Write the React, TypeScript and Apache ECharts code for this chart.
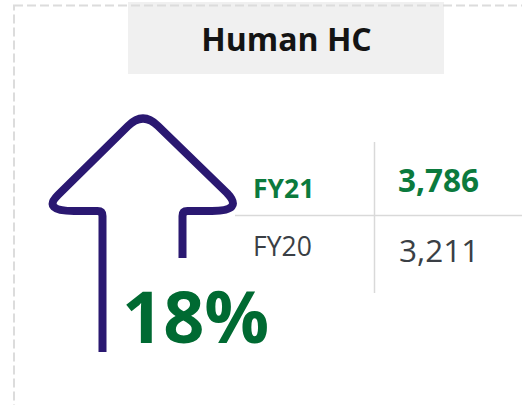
import React, { useEffect, useRef } from "react";
import * as echarts from "echarts";

const title = "Human HC";
const periodLabels = ["FY21", "FY20"];
const headcounts = [3786, 3211];
const changeLabel = "18%";

const ARROW_D =
  "M102.5 352 L102.5 216 Q102.5 211 97.5 211 L74 211 Q42 211 58 195 L128 126 Q143 111 158 126 L227 193 Q244 211 212 211 L187.5 211 Q182.5 211 182.5 216 L182.5 258";

let registered = false;
function ensureShape() {
  if (registered) return;
  echarts.graphic.registerShape("arrowOutline", echarts.graphic.extendPath(ARROW_D, {}) as any);
  registered = true;
}

const FONT = "'Open Sans', 'Noto Sans', sans-serif";
const GREEN = "#0b7a3d";
const DARK_GREEN = "#006a32";
const GREY_TEXT = "#3a3f45";
const PURPLE = "#2a1871";

export default function App() {
  const ref = useRef<HTMLDivElement>(null);
  useEffect(() => {
    if (!ref.current) return;
    ensureShape();
    const chart = echarts.init(ref.current, undefined, { renderer: "svg" });
    const fmt = (v: number) => v.toLocaleString("en-US");
    const txt = (text: string, x: number, yMid: number, size: number, weight: string, color: string, align = "left") => ({
      type: "text",
      x,
      y: yMid,
      style: {
        text,
        fontFamily: FONT,
        fontSize: size,
        fontWeight: weight,
        fill: color,
        align,
        verticalAlign: "middle",
      },
    });
    chart.setOption({
      animation: false,
      graphic: [
        { type: "rect", shape: { x: 128, y: 2, width: 316, height: 72 }, style: { fill: "#f0f0f0" } },
        {
          type: "rect",
          shape: { x: 14, y: 5.5, width: 620, height: 520 },
          style: { fill: "none", stroke: "#dcdcdc", lineWidth: 2, lineDash: [9, 4] },
        },
        txt(title, 286.5, 38, 32, "bold", "#141414", "center"),
        {
          type: "arrowOutline",
          x: 0,
          y: 0,
          style: { fill: "none", stroke: PURPLE, lineWidth: 8, lineCap: "butt", lineJoin: "round" },
        },
        { type: "line", shape: { x1: 374.5, y1: 142, x2: 374.5, y2: 293 }, style: { stroke: "#d9d9d9", lineWidth: 1.5 } },
        { type: "line", shape: { x1: 235, y1: 215.5, x2: 522, y2: 215.5 }, style: { stroke: "#d9d9d9", lineWidth: 1.5 } },
        txt(periodLabels[0], 253, 188, 26.5, "bold", GREEN),
        txt(fmt(headcounts[0]), 398, 179, 31.5, "bold", GREEN),
        txt(periodLabels[1], 253, 245.5, 26.5, "normal", GREY_TEXT),
        txt(fmt(headcounts[1]), 399, 249, 31.5, "normal", GREY_TEXT),
        txt(changeLabel, 122, 315, 72, "bold", DARK_GREEN),
      ],
    });
    return () => chart.dispose();
  }, []);
  return (
    <div
      ref={ref}
      style={{ position: "fixed", left: 0, top: 0, width: 522, height: 405, background: "#ffffff" }}
    />
  );
}
